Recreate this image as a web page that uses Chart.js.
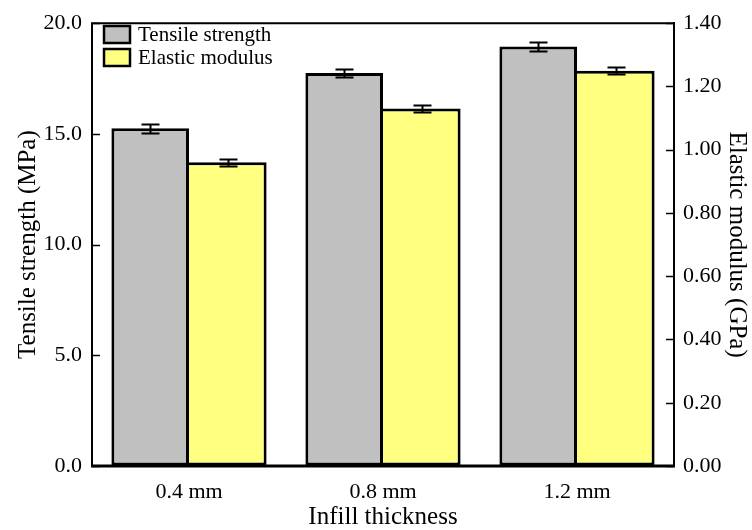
<!DOCTYPE html>
<html>
<head>
<meta charset="utf-8">
<script src="https://cdn.jsdelivr.net/npm/chart.js@4.4.1/dist/chart.umd.min.js"></script>
<style>
  html, body { margin: 0; padding: 0; background: #fff; }
  #wrap { width: 752px; height: 530px; }
</style>
</head>
<body>
<div id="wrap"><canvas id="chart" width="752" height="530"></canvas></div>
<script>
const categories = ["0.4 mm", "0.8 mm", "1.2 mm"];
const tensileStrength = [15.25, 17.75, 18.95];
const tensileError = [0.2, 0.2, 0.2];
const elasticModulus = [0.96, 1.13, 1.25];
const elasticError = [0.01, 0.01, 0.01];

const serif = '"Liberation Serif", "DejaVu Serif", serif';
const tickFont = { family: serif, size: 22 };
const titleFont = { family: serif, size: 25, lineHeight: 1.0 };
const legendFont = "21px " + serif;

// error bars at each bar's centre, through the dataset's own y scale
const errorBars = {
  id: "errorBars",
  afterDatasetsDraw(chart) {
    const ctx = chart.ctx;
    ctx.save();
    ctx.strokeStyle = "#000";
    ctx.lineWidth = 2;
    chart.data.datasets.forEach((ds, i) => {
      const meta = chart.getDatasetMeta(i);
      const scale = chart.scales[meta.yAxisID];
      meta.data.forEach((bar, j) => {
        const v = ds.data[j], e = ds.errors[j];
        const yTop = Math.round(scale.getPixelForValue(v + e)) + 0.5;
        const yBot = Math.round(scale.getPixelForValue(v - e)) + 0.5;
        const x = Math.round(bar.x) + 0.5, half = 9;
        ctx.beginPath();
        ctx.moveTo(x, yTop); ctx.lineTo(x, yBot);
        ctx.moveTo(x - half, yTop); ctx.lineTo(x + half, yTop);
        ctx.moveTo(x - half, yBot); ctx.lineTo(x + half, yBot);
        ctx.stroke();
      });
    });
    ctx.restore();
  },
};

// plot frame plus tick marks pointing inward on both value axes
const frameTicks = {
  id: "frameTicks",
  afterDraw(chart) {
    const ctx = chart.ctx;
    const { left, right, top, bottom } = chart.chartArea;
    ctx.save();
    ctx.strokeStyle = "#000";
    ctx.lineWidth = 2;
    ctx.beginPath();
    ctx.moveTo(left, bottom);
    ctx.lineTo(left, top);
    ctx.lineTo(right, top);
    ctx.lineTo(right, bottom);
    ctx.stroke();
    ctx.lineWidth = 1.5;
    ["y", "y1"].forEach((id) => {
      const s = chart.scales[id];
      const x0 = id === "y" ? left : right;
      const dir = id === "y" ? 1 : -1;
      s.ticks.forEach((t, k) => {
        const y = Math.round(s.getPixelForTick(k)) + 0.5;
        ctx.beginPath();
        ctx.moveTo(x0, y);
        ctx.lineTo(x0 + dir * 8, y);
        ctx.stroke();
      });
    });
    ctx.lineWidth = 3;
    ctx.beginPath();
    ctx.moveTo(left - 1, bottom);
    ctx.lineTo(right + 1, bottom);
    ctx.stroke();
    ctx.restore();
  },
};

// legend inside the plot, top-left
const boxLegend = {
  id: "boxLegend",
  afterDraw(chart) {
    const ctx = chart.ctx;
    ctx.save();
    ctx.font = legendFont;
    ctx.textBaseline = "middle";
    ctx.textAlign = "left";
    chart.data.datasets.forEach((ds, i) => {
      const x = 104, y = 26 + i * 23;
      ctx.fillStyle = ds.backgroundColor;
      ctx.fillRect(x, y, 26, 17);
      ctx.strokeStyle = "#000";
      ctx.lineWidth = 2.5;
      ctx.strokeRect(x, y, 26, 17);
      ctx.fillStyle = "#000";
      ctx.fillText(ds.label, 138, y + 9);
    });
    ctx.restore();
  },
};

new Chart(document.getElementById("chart"), {
  type: "bar",
  data: {
    labels: categories,
    datasets: [
      {
        label: "Tensile strength",
        data: tensileStrength,
        errors: tensileError,
        backgroundColor: "#c0c0c0",
        borderColor: "#000",
        borderWidth: 3,
        borderSkipped: false,
        yAxisID: "y",
        categoryPercentage: 0.8,
        barPercentage: 1.0,
      },
      {
        label: "Elastic modulus",
        data: elasticModulus,
        errors: elasticError,
        backgroundColor: "#ffff80",
        borderColor: "#000",
        borderWidth: 3,
        borderSkipped: "left",
        yAxisID: "y1",
        categoryPercentage: 0.8,
        barPercentage: 1.0,
      },
    ],
  },
  options: {
    responsive: false,
    animation: false,
    layout: { padding: 0 },
    plugins: {
      tooltip: { enabled: false },
      legend: { display: false },
    },
    scales: {
      x: {
        grid: { display: false },
        border: { display: false },
        ticks: { font: tickFont, color: "#000", padding: 5 },
        title: { display: true, text: "Infill thickness", font: titleFont, color: "#000", padding: 0 },
        afterFit: (s) => { s.height = 530 - 466; },
      },
      xTop: {
        position: "top",
        type: "category",
        labels: categories,
        grid: { display: false },
        border: { display: false },
        ticks: { display: false },
        afterFit: (s) => { s.height = 20; },
      },
      y: {
        position: "left",
        min: 0,
        max: 20,
        ticks: { stepSize: 5, font: tickFont, color: "#000", padding: 10, callback: (v) => v.toFixed(1) },
        grid: { drawOnChartArea: false, drawTicks: false },
        border: { display: false },
        title: { display: true, text: "Tensile strength (MPa)", font: titleFont, color: "#000", padding: { top: 16, bottom: 0 } },
        afterFit: (s) => { s.width = 92; },
      },
      y1: {
        position: "right",
        min: 0,
        max: 1.4,
        ticks: { stepSize: 0.2, font: tickFont, color: "#000", padding: 9, callback: (v) => v.toFixed(2) },
        grid: { drawOnChartArea: false, drawTicks: false },
        border: { display: true, color: "#000", width: 2 },
        title: { display: true, text: "Elastic modulus (GPa)", font: titleFont, color: "#000", padding: { top: 3, bottom: 0 } },
        afterFit: (s) => { s.width = 752 - 674; },
      },
    },
  },
  plugins: [errorBars, frameTicks, boxLegend],
});
</script>
</body>
</html>
